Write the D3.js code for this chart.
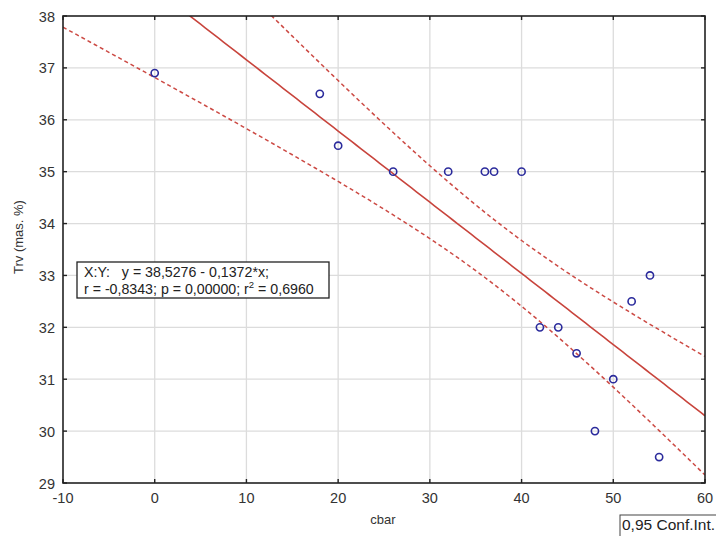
<!DOCTYPE html>
<html><head><meta charset="utf-8">
<script src="https://cdn.jsdelivr.net/npm/d3@7"></script>
<style>body{margin:0;background:#fff}svg{display:block;font-family:"Liberation Sans",Arial,sans-serif}text{white-space:pre}</style>
</head><body>
<svg id="c" width="716" height="536"></svg>
<script>
const cbar = [0,18,20,26,32,36,37,40,42,44,46,48,50,52,54,55];
const trv  = [36.9,36.5,35.5,35,35,35,35,35,32,32,31.5,30,31,32.5,33,29.5];
const xTicks = [-10,0,10,20,30,40,50,60];
const yTicks = [29,30,31,32,33,34,35,36,37,38];
const fitCoef = [38.5276, -0.1372]; // intercept, slope
const ciFactor = [2.5];
const eqLines = ["X:Y:   y = 38,5276 - 0,1372*x;", "r = -0,8343; p = 0,00000; r", "2", " = 0,6960"];
const legendText = ["0,95 Conf.Int."];

const svg = d3.select("#c");
const m = {l:63, r:705, t:16, b:483};
const x = d3.scaleLinear().domain([-10,60]).range([m.l,m.r]);
const y = d3.scaleLinear().domain([29,38]).range([m.b,m.t]);

svg.append("defs").append("clipPath").attr("id","clip").append("rect")
  .attr("x",m.l).attr("y",m.t).attr("width",m.r-m.l).attr("height",m.b-m.t);

// grid
const grid = svg.append("g").attr("stroke","#dcdcdc").attr("stroke-width",1.3);
grid.selectAll(".gx").data(xTicks.slice(1,-1)).join("line")
  .attr("x1",d=>x(d)).attr("x2",d=>x(d)).attr("y1",m.t).attr("y2",m.b);
grid.selectAll(".gy").data(yTicks.slice(1,-1)).join("line")
  .attr("y1",d=>y(d)).attr("y2",d=>y(d)).attr("x1",m.l).attr("x2",m.r);

// regression + CI
const n = cbar.length, xm = d3.mean(cbar);
const sxx = d3.sum(cbar, v => (v-xm)*(v-xm));
const fit = v => fitCoef[0] + fitCoef[1]*v;
const hw = v => ciFactor[0]*Math.sqrt(1/n + (v-xm)*(v-xm)/sxx);
const xs = d3.range(-10, 60.01, 0.5);
const lineGen = f => d3.line().x(v=>x(v)).y(v=>y(f(v)))(xs);
const plot = svg.append("g").attr("clip-path","url(#clip)");
plot.append("path").attr("d",lineGen(fit)).attr("fill","none").attr("stroke","#c8443c").attr("stroke-width",1.6);
plot.append("path").attr("d",lineGen(v=>fit(v)+hw(v))).attr("fill","none").attr("stroke","#cc4a44").attr("stroke-width",1.5).attr("stroke-dasharray","4,3");
plot.append("path").attr("d",lineGen(v=>fit(v)-hw(v))).attr("fill","none").attr("stroke","#cc4a44").attr("stroke-width",1.5).attr("stroke-dasharray","4,3");

// points
svg.append("g").selectAll("circle").data(cbar).join("circle")
  .attr("cx",(d)=>x(d)).attr("cy",(d,i)=>y(trv[i])).attr("r",3.6)
  .attr("fill","none").attr("stroke","#2b2b9c").attr("stroke-width",1.6);

// frame + ticks
svg.append("rect").attr("x",m.l).attr("y",m.t).attr("width",m.r-m.l).attr("height",m.b-m.t)
  .attr("fill","none").attr("stroke","#222").attr("stroke-width",1.6);
const fr = svg.append("g").attr("stroke","#222").attr("stroke-width",1.4);
fr.selectAll(".tb").data(xTicks).join("line").attr("x1",d=>x(d)).attr("x2",d=>x(d)).attr("y1",m.b).attr("y2",m.b-4);
fr.selectAll(".tt").data(xTicks).join("line").attr("x1",d=>x(d)).attr("x2",d=>x(d)).attr("y1",m.t).attr("y2",m.t+4);
fr.selectAll(".tl").data(yTicks).join("line").attr("y1",d=>y(d)).attr("y2",d=>y(d)).attr("x1",m.l).attr("x2",m.l+4);
fr.selectAll(".tr").data(yTicks).join("line").attr("y1",d=>y(d)).attr("y2",d=>y(d)).attr("x1",m.r).attr("x2",m.r-4);

// tick labels
svg.append("g").selectAll("text").data(xTicks).join("text")
  .attr("x",d=>x(d)).attr("y",m.b+20).attr("text-anchor","middle")
  .attr("font-size",14.5).attr("fill","#333").text(d=>d);
svg.append("g").selectAll("text").data(yTicks).join("text")
  .attr("x",m.l-8).attr("y",d=>y(d)+5.5).attr("text-anchor","end")
  .attr("font-size",14.5).attr("fill","#333").text(d=>d);

// axis titles
svg.append("text").attr("x",383).attr("y",524).attr("text-anchor","middle")
  .attr("font-size",13).attr("fill","#333").text("cbar");
svg.append("text").attr("transform",`translate(23,237) rotate(-90)`)
  .attr("text-anchor","middle").attr("font-size",13).attr("fill","#333").text("Trv (mas. %)");

// equation box
const eb = svg.append("g");
eb.append("rect").attr("x",77).attr("y",262).attr("width",252).attr("height",36)
  .attr("fill","#fff").attr("stroke","#222").attr("stroke-width",1.3);
eb.append("text").attr("x",84).attr("y",277).attr("font-size",14.2).attr("fill","#222").text(eqLines[0]);
const t2 = eb.append("text").attr("x",84).attr("y",293.5).attr("font-size",14.2).attr("fill","#222");
t2.append("tspan").text(eqLines[1]);
t2.append("tspan").attr("dy",-6).attr("font-size",9.5).text(eqLines[2]);
t2.append("tspan").attr("dy",6).text(eqLines[3]);

// legend
svg.append("rect").attr("x",620).attr("y",515).attr("width",110).attr("height",40)
  .attr("fill","#fff").attr("stroke","#444").attr("stroke-width",1);
svg.append("text").attr("x",622).attr("y",530).attr("font-size",15.5).attr("fill","#222").text(legendText[0]);
</script>
</body></html>
